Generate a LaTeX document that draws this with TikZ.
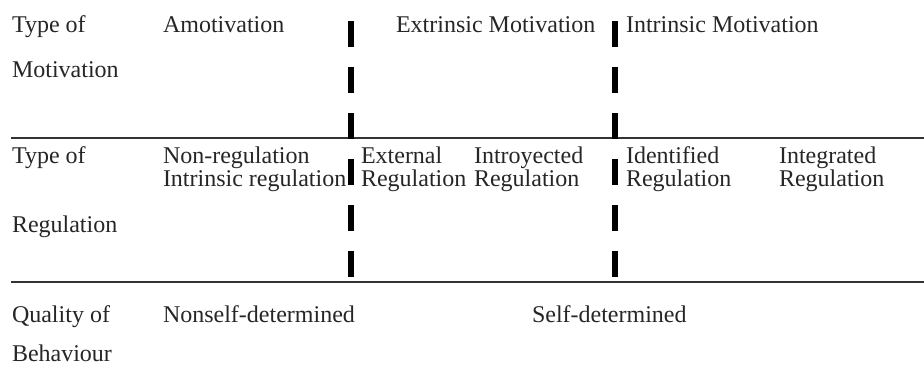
\documentclass[tikz,border=0pt]{standalone}
\usepackage{fontspec}
\setmainfont{Liberation Serif}
\begin{document}
\begin{tikzpicture}[x=0.5pt,y=-0.5pt,
  lbl/.style={anchor=base west,inner sep=0pt,outer sep=0pt,font=\fontsize{12}{12}\selectfont,text=black!85},
  rule/.style={line width=0.75pt,black!80},
  divider/.style={line width=2.8pt,black,dash pattern=on 13pt off 10pt}]
\useasboundingbox (0,0) rectangle (924,366);
% horizontal rules
\coordinate (r1a) at (11,138); \coordinate (r1b) at (924,138);
\coordinate (r2a) at (11,282); \coordinate (r2b) at (924,282);
\draw[rule] (r1a) -- (r1b);
\draw[rule] (r2a) -- (r2b);
% dashed dividers
\coordinate (d1a) at (351,21); \coordinate (d1b) at (351,277);
\coordinate (d2a) at (615,21); \coordinate (d2b) at (615,277);
\draw[divider] (d1a) -- (d1b);
\draw[divider] (d2a) -- (d2b);
% row 1
\node[lbl] (t1a) at (12,32) {Type of};
\node[lbl] (t1b) at (12,77) {Motivation};
\node[lbl] (amot) at (163,32) {Amotivation};
\node[lbl] (extr) at (396,32) {Extrinsic Motivation};
\node[lbl] (intr) at (626,32) {Intrinsic Motivation};
% row 2
\node[lbl] (t2a) at (12,163) {Type of};
\node[lbl] (t2b) at (12,232) {Regulation};
\node[lbl] (nonreg) at (163,163) {Non-regulation};
\node[lbl] (intreg) at (163,186) {Intrinsic regulation};
\node[lbl] (ext1) at (361,163) {External};
\node[lbl] (ext2) at (361,186) {Regulation};
\node[lbl] (intro1) at (474,163) {Introyected};
\node[lbl] (intro2) at (474,186) {Regulation};
\node[lbl] (iden1) at (626,163) {Identified};
\node[lbl] (iden2) at (626,186) {Regulation};
\node[lbl] (integ1) at (779,163) {Integrated};
\node[lbl] (integ2) at (779,186) {Regulation};
% row 3
\node[lbl] (q1) at (12,322) {Quality of};
\node[lbl] (q2) at (12,361) {Behaviour};
\node[lbl] (nsd) at (163,322) {Nonself-determined};
\node[lbl] (sd) at (532,322) {Self-determined};
\end{tikzpicture}
\end{document}
